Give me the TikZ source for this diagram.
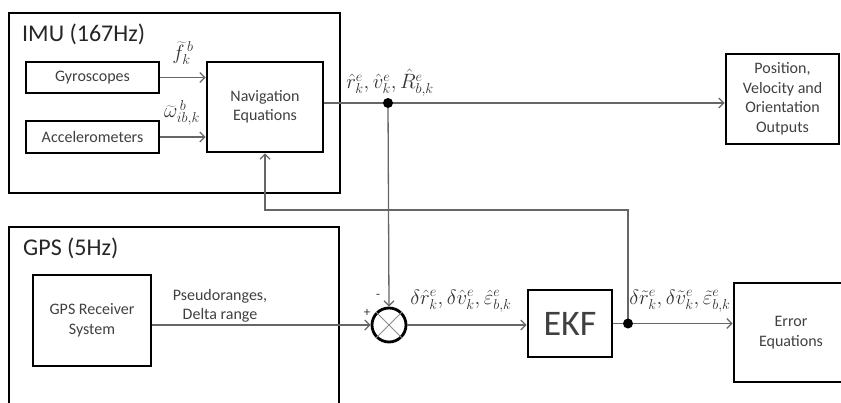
\documentclass[tikz,border=0pt]{standalone}
\usepackage{fontspec}
\setmainfont{Carlito}
\usetikzlibrary{arrows.meta,calc}
\begin{document}
\begin{tikzpicture}[x=1pt,y=-1pt,
  blk/.style={draw=black,line width=2.8pt,rectangle,inner sep=0pt,align=center,
    font=\fontsize{16}{19.5}\selectfont,text=black!75},
  conn/.style={draw=black!60,line width=1.3pt},
  arr/.style={conn,-{Straight Barb[length=5pt,width=10pt,line width=1.2pt]}},
  jdot/.style={circle,fill=black,inner sep=0pt,minimum size=10pt},
  mlab/.style={inner sep=0pt,font=\fontsize{20.5}{24}\selectfont,text=black!80},
  title/.style={inner sep=0pt,anchor=west,font=\fontsize{24}{28}\selectfont,text=black!85},
  sgn/.style={inner sep=0pt,font=\fontsize{13}{15}\selectfont,text=black!80}]
\useasboundingbox (0,0) rectangle (841,402);
\clip (0,0) rectangle (841,402);
% containers
\node[blk,minimum width=331pt,minimum height=180pt] (imu) at (174.5,103) {};
\node[blk,minimum width=330pt,minimum height=193pt] (gps) at (174,323.5) {};
\node[title] (imut) at (22,34) {IMU (167Hz)};
\node[title] (gpst) at (23,248) {GPS (5Hz)};
% blocks
\node[blk,minimum width=133pt,minimum height=31pt] (gyro) at (92.5,77.5) {Gyroscopes};
\node[blk,minimum width=133pt,minimum height=32pt] (acc) at (92.5,137) {Accelerometers};
\node[blk,minimum width=116pt,minimum height=90pt] (nav) at (265,107) {Navigation\\Equations};
\node[blk,minimum width=113pt,minimum height=90pt] (pos) at (782.5,99) {Position,\\Velocity and\\Orientation\\Outputs};
\node[blk,minimum width=118pt,minimum height=91pt] (rec) at (92,320.5) {GPS Receiver\\System};
\node[blk,minimum width=84pt,minimum height=67pt,font=\fontsize{36}{40}\selectfont] (ekf) at (570,323.5) {EKF};
\node[blk,minimum width=114pt,minimum height=99pt] (err) at (791,332.5) {Error\\Equations};
\node[circle,draw=black,line width=2.8pt,minimum size=34pt,inner sep=0pt] (sum) at (389,325) {};
\draw[conn,line width=1pt,draw=black!45] (sum.north east) -- (sum.south west) (sum.north west) -- (sum.south east);
% junctions
\coordinate (j1) at (388,103);
\coordinate (j2) at (628,323.5);
\coordinate (fb) at (265,210);
% connectors
\draw[arr] (gyro.east) -- (nav.west |- gyro.east);
\draw[arr] (acc.east) -- (nav.west |- acc.east);
\draw[conn] (nav.east |- j1) -- (j1);
\draw[arr] (j1) -- (pos.west |- j1);
\draw[arr] (j1) -- (sum.north);
\draw[arr] (rec.east |- sum.west) -- (sum.west);
\draw[arr] (sum.east) -- (ekf.west |- sum.east);
\draw[conn] (ekf.east) -- (j2);
\draw[arr] (j2) -- (err.west |- j2);
\draw[arr] (j2) |- (fb) -- (nav.south);
\node[jdot] (d1) at (j1) {};
\node[jdot] (d2) at (j2) {};
% labels
\node[mlab] (lf) at (183,53) {$\widetilde{f}_{k}^{\,b}$};
\node[mlab] (lw) at (182,113) {$\widetilde{\omega}_{ib,k}^{\,b}$};
\node[mlab] (lnav) at (390,83) {$\hat{r}_k^e,\hat{v}_k^e,\hat{R}_{b,k}^e$};
\node[mlab] (ldel) at (461,301) {$\delta\hat{r}_k^e,\delta\hat{v}_k^e,\hat{\varepsilon}_{b,k}^e$};
\node[mlab] (lerr) at (680,301) {$\delta\tilde{r}_k^e,\delta\tilde{v}_k^e,\tilde{\varepsilon}_{b,k}^e$};
\node[blk,draw=none,align=center] (lps) at (220,306) {Pseudoranges,\\Delta range};
\node[sgn] (plus) at (367,313) {+};
\node[sgn] (minus) at (378,296) {-};
\end{tikzpicture}
\end{document}
